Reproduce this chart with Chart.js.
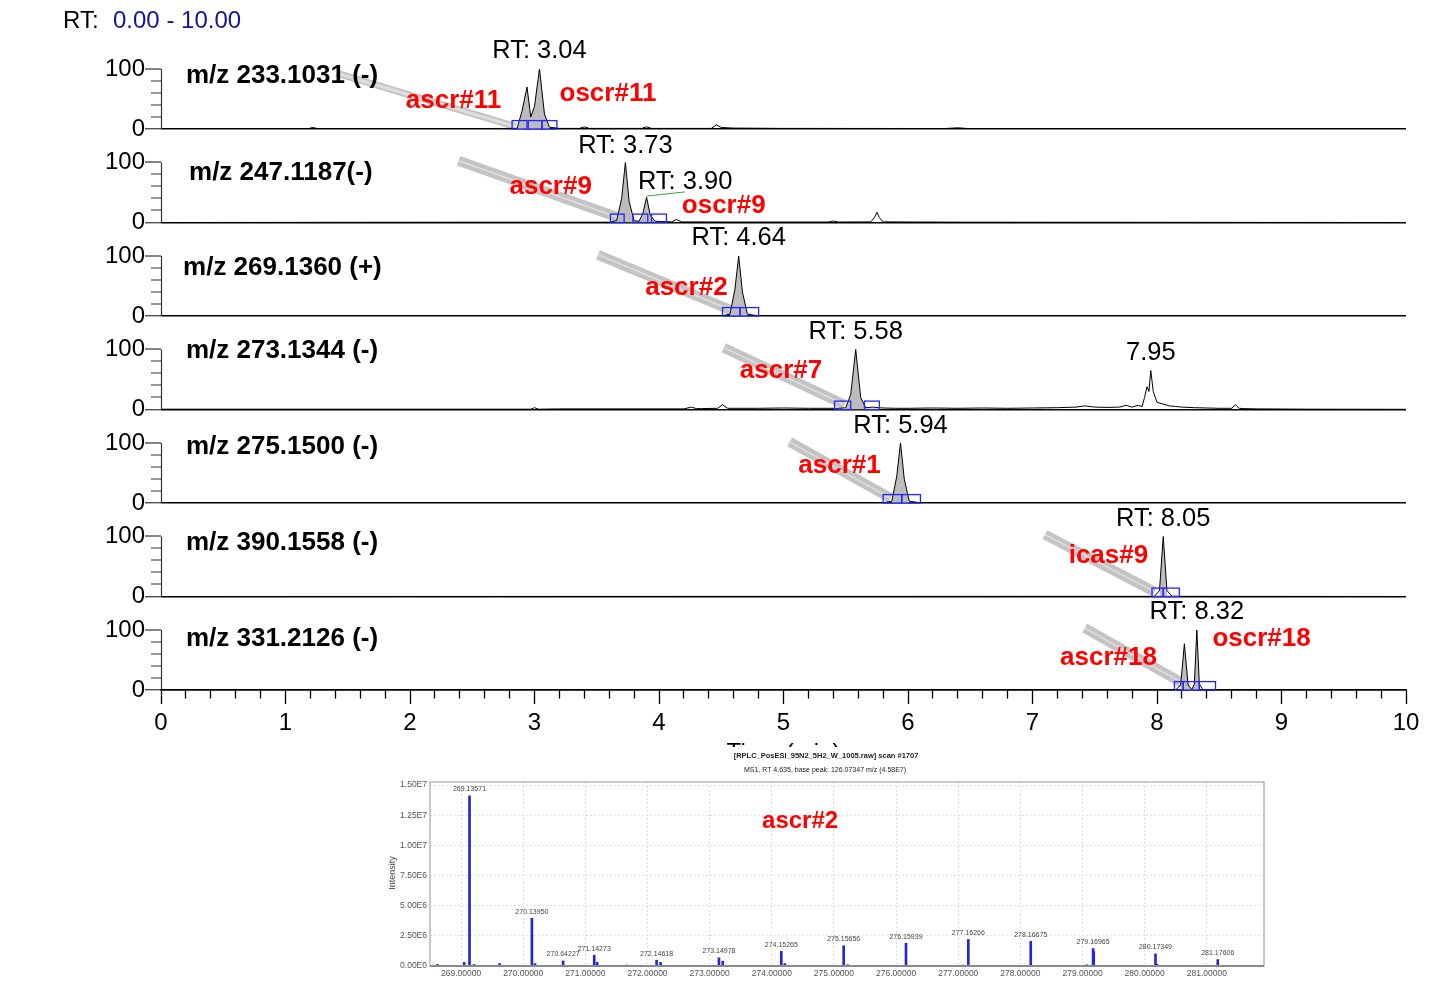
<!DOCTYPE html>
<html>
<head>
<meta charset="utf-8">
<script src="https://cdn.jsdelivr.net/npm/chart.js@4.4.0/dist/chart.umd.min.js"></script>
<style>
body { margin: 0; background: #fff; }
#wrap { position: relative; width: 1444px; height: 989px; overflow: hidden; }
#main { position: absolute; left: 0; top: 0; }
#spec { position: absolute; left: 370px; top: 747px; background: #fff; }
</style>
</head>
<body>
<div id="wrap">
  <canvas id="main" width="1444" height="780"></canvas>
  <canvas id="spec" width="910" height="240"></canvas>
</div>
<script>
/** 1. DATA **/
// chromatogram traces, top panel first (time in min, relative abundance %)
const t233 = [0, 1.18, 1.22, 1.26, 2.2, 2.86, 2.9, 2.94, 2.97, 3.0, 3.04, 3.08, 3.12, 3.2, 3.36, 3.4, 3.44, 3.86, 3.9, 3.94, 4.1, 4.42, 4.46, 4.5, 4.6, 5.0, 6.3, 6.4, 6.5, 7.4, 10];
const i233 = [0.5, 0.5, 2.5, 0.5, 0.5, 1, 30, 70, 20, 38, 100, 25, 3, 1, 1, 3.5, 1, 1, 3.5, 1, 1, 1, 7, 2.5, 1.5, 1, 0.8, 2, 0.5, 0.3, 0];

const t247 = [0, 2.5, 3.6, 3.66, 3.70, 3.73, 3.76, 3.80, 3.84, 3.87, 3.90, 3.93, 3.97, 4.1, 4.14, 4.18, 4.6, 5.36, 5.4, 5.44, 5.7, 5.73, 5.75, 5.77, 5.8, 6.5, 10];
const i247 = [0, 0.5, 0.5, 3, 40, 100, 35, 3, 2, 15, 42, 12, 2, 1, 5, 1, 0.8, 0.8, 2.5, 0.8, 1, 8, 17, 8, 1, 0.5, 0];

const t269 = [0, 4.5, 4.57, 4.61, 4.64, 4.67, 4.71, 4.8, 10];
const i269 = [0, 0.3, 3, 45, 100, 40, 3, 0.3, 0];

const t273 = [0, 2.97, 3.0, 3.03, 3.2, 4.2, 4.26, 4.3, 4.34, 4.47, 4.51, 4.55, 4.8, 5.0, 5.2, 5.45, 5.5, 5.54, 5.58, 5.62, 5.66, 5.72, 5.76, 5.8, 5.9, 6.0, 6.2, 6.4, 6.6, 6.8, 7.0, 7.2, 7.35, 7.42, 7.5, 7.6, 7.7, 7.75, 7.8, 7.85, 7.88, 7.9, 7.92, 7.935, 7.95, 7.97, 8.0, 8.05, 8.1, 8.15, 8.2, 8.3, 8.4, 8.5, 8.6, 8.63, 8.66, 8.7, 8.8, 9.0, 9.2, 10];
const i273 = [0.5, 0.5, 3, 0.5, 1, 1, 4, 1.5, 1.5, 2, 8, 2, 2, 2.5, 2, 2, 3, 25, 100, 20, 3, 4, 3, 2.5, 2, 2, 2.5, 2, 2.5, 2, 2.5, 3, 4, 6, 4, 3.5, 4, 7, 4, 7, 5, 20, 38, 30, 65, 30, 12, 9, 6, 5, 4, 3, 2.5, 2, 2, 8, 2, 1.5, 1, 0.8, 0.5, 0.3];

const t275 = [0, 5.8, 5.87, 5.91, 5.94, 5.97, 6.01, 6.1, 10];
const i275 = [0, 0.3, 3, 45, 100, 40, 3, 0.3, 0];

const t390 = [0, 7.98, 8.02, 8.05, 8.08, 8.12, 10];
const i390 = [0, 0.3, 10, 100, 10, 0.3, 0];

const t331 = [0, 8.15, 8.19, 8.22, 8.25, 8.28, 8.3, 8.32, 8.34, 8.37, 10];
const i331 = [0, 0.3, 8, 77, 8, 1, 10, 100, 10, 0.3, 0];

const traces = [[t233, i233], [t247, i247], [t269, i269], [t273, i273], [t275, i275], [t390, i390], [t331, i331]];

const mzLabels = ['m/z 233.1031 (-)', 'm/z 247.1187(-)', 'm/z 269.1360 (+)', 'm/z 273.1344 (-)', 'm/z 275.1500 (-)', 'm/z 390.1558 (-)', 'm/z 331.2126 (-)'];

// shaded (integrated) peak ranges, min
const shadeRanges = [[2.86, 3.12], [3.62, 3.98], [4.55, 4.73], [5.5, 5.66], [5.85, 6.03], [8.0, 8.1], [8.17, 8.36]];

// blue integration boxes [from, to] in min
const peakBoxes = [
  [[2.82, 2.94], [2.95, 3.06], [3.06, 3.18]],
  [[3.61, 3.72], [3.79, 3.91], [3.94, 4.06]],
  [[4.51, 4.65], [4.65, 4.80]],
  [[5.41, 5.54], [5.65, 5.77]],
  [[5.80, 5.95], [5.95, 6.10]],
  [[7.96, 8.05], [8.05, 8.18]],
  [[8.14, 8.21], [8.21, 8.34], [8.34, 8.47]]
];

// gray pointer bands [t0, y0, t1, y1]
const bands = [
  [1.41, 93, 2.85, 4],
  [2.39, 103, 3.69, 7],
  [3.51, 102, 4.61, 7],
  [4.52, 103, 5.49, 8],
  [5.05, 102, 5.86, 8],
  [7.10, 103, 7.98, 8],
  [7.42, 103, 8.21, 11]
];

// retention time labels [text, t, level]
const rtLabels = [
  [['RT: 3.04', 3.04, 130]],
  [['RT: 3.73', 3.73, 128], ['RT: 3.90', 4.21, 68]],
  [['RT: 4.64', 4.64, 130]],
  [['RT: 5.58', 5.58, 130], ['7.95', 7.95, 95]],
  [['RT: 5.94', 5.94, 128]],
  [['RT: 8.05', 8.05, 130]],
  [['RT: 8.32', 8.32, 130]]
];

// compound names [text, t, level]
const compoundLabels = [
  [['ascr#11', 2.35, 47], ['oscr#11', 3.59, 58]],
  [['ascr#9', 3.13, 60], ['oscr#9', 4.52, 27]],
  [['ascr#2', 4.22, 47]],
  [['ascr#7', 4.98, 65]],
  [['ascr#1', 5.45, 62]],
  [['icas#9', 7.61, 68]],
  [['ascr#18', 7.61, 53], ['oscr#18', 8.84, 85]]
];

// leader from the 3.90 peak to its label
const leaderT = [3.90, 4.21];
const leaderY = [44, 51];

// MS1 spectrum at RT 4.635
const peakMz = [269.13571, 270.13950, 270.64227, 271.14273, 272.14618, 273.14978, 274.15265, 275.15656, 276.15939, 277.16266, 278.16675, 279.16965, 280.17349, 281.17606];
const peakInt = [1.41e7, 3.95e6, 4.2e5, 9.0e5, 4.8e5, 6.8e5, 1.22e6, 1.68e6, 1.88e6, 2.2e6, 2.05e6, 1.45e6, 1.0e6, 5.3e5];
const minorMz = [268.62, 269.05, 269.21, 269.62, 270.19, 271.19, 271.67, 272.21, 273.21, 274.21, 275.22, 276.67, 277.07, 279.07, 279.18, 280.2];
const minorInt = [1.3e5, 3.0e5, 1.2e5, 2.0e5, 2.0e5, 3.0e5, 8e4, 3.0e5, 4.0e5, 2.0e5, 1.0e5, 5e4, 8e4, 1.0e5, 1.2e6, 1.5e5];
const specXTicks = [269, 270, 271, 272, 273, 274, 275, 276, 277, 278, 279, 280, 281];
const specYTicks = [0, 2.5e6, 5e6, 7.5e6, 1e7, 1.25e7, 1.5e7];

/** 2. MAIN CHROMATOGRAM **/
const FONT = "'Liberation Sans', Arial, sans-serif";
const TOP = 155.8;      // axis max so that 0..100 fills 60px of a 93.5px panel
const BOX_H = 14;
const mzLabelT = [0.2, 0.225, 0.177, 0.2, 0.2, 0.2, 0.2];
const mzLabelY = [88, 83, 80, 98, 93, 90, 85];

const isInt = v => Math.abs(v - Math.round(v)) < 1e-6;
const minorY = v => !(isInt(v / 100));

function panelAxis() {
    return {
        type: 'linear', position: 'left', stack: 'rt', stackWeight: 1, offset: false,
        min: 0, max: TOP,
        afterBuildTicks: ax => { ax.ticks = ax.ticks.filter(t => t.value <= 100.001); },
        afterFit: ax => { ax.width = 60; },
        ticks: {
            stepSize: 20, autoSkip: false, padding: 0, color: '#000',
            font: { family: FONT, size: 24 },
            callback: v => (v === 0 || v === 100) ? String(v) : ''
        },
        grid: {
            drawOnChartArea: true,
            color: c => (c.tick && c.tick.value === 0) ? '#000' : 'rgba(0,0,0,0)',
            lineWidth: c => (c.tick && c.tick.value === 0) ? 1.5 : 0,
            tickLength: 16, tickColor: '#333', tickWidth: 1.2,
            tickBorderDash: c => (c.tick && minorY(c.tick.value)) ? [0, 6, 10, 40] : []
        },
        border: { display: false }
    };
}

const scales = {
    x: {
        type: 'linear', position: 'bottom', min: 0, max: 10,
        afterFit: ax => { ax.height = 90; },
        ticks: {
            stepSize: 0.2, maxTicksLimit: 100, autoSkip: false, maxRotation: 0, padding: 5, color: '#000',
            font: { family: FONT, size: 24 },
            callback: v => isInt(v) ? String(Math.round(v)) : ''
        },
        grid: {
            drawOnChartArea: false, tickLength: 14, tickColor: '#000', tickWidth: 1.3,
            tickBorderDash: c => (c.tick && !isInt(c.tick.value)) ? [8, 40] : []
        },
        border: { display: true, color: '#000', width: 1.5 }
    }
};
// stacked panels are laid out bottom-up in definition order
for (let k = traces.length - 1; k >= 0; k--) scales['p' + k] = panelAxis();

const datasets = [];
traces.forEach(([t, v], k) => {
    const sh = shadeRanges[k];
    datasets.push({
        yAxisID: 'p' + k, order: 1,
        data: t.map((x, i) => ({ x, y: v[i] })),
        borderColor: '#000', borderWidth: 1, pointRadius: 0, tension: 0,
        fill: 'origin', backgroundColor: 'rgba(0,0,0,0)',
        segment: {
            backgroundColor: c => (c.p0.parsed.x >= sh[0] && c.p1.parsed.x <= sh[1]) ? '#bcbcbc' : 'rgba(0,0,0,0)'
        }
    });
});
bands.forEach((b, k) => {
    const d = [{ x: b[0], y: b[1] }, { x: b[2], y: b[3] }];
    datasets.push({ yAxisID: 'p' + k, order: 6, data: d, borderColor: '#c4c4c4', borderWidth: k === 0 ? 7 : 10, pointRadius: 0, fill: false });
    datasets.push({ yAxisID: 'p' + k, order: 5, data: d, borderColor: '#dedede', borderWidth: k === 0 ? 3 : 1.5, pointRadius: 0, fill: false });
});
datasets.push({
    yAxisID: 'p1', order: 2, data: leaderT.map((x, i) => ({ x, y: leaderY[i] })),
    borderColor: '#3aa53a', borderWidth: 1, pointRadius: 0, fill: false
});

const mainDecor = {
    id: 'mainDecor',
    afterDatasetsDraw(chart) {
        const ctx = chart.ctx, xs = chart.scales.x;
        ctx.save();
        traces.forEach((_, k) => {
            const ys = chart.scales['p' + k];
            const left = xs.left;
            // short y axis line 0..100
            ctx.strokeStyle = '#333'; ctx.lineWidth = 1.2;
            ctx.beginPath();
            ctx.moveTo(left + 0.5, ys.getPixelForValue(100));
            ctx.lineTo(left + 0.5, ys.getPixelForValue(0));
            ctx.stroke();
            // integration boxes
            ctx.strokeStyle = '#2424ff'; ctx.lineWidth = 1.3;
            peakBoxes[k].forEach(([a, b]) => {
                const x0 = xs.getPixelForValue(a), x1 = xs.getPixelForValue(b);
                const y0 = ys.getPixelForValue(BOX_H), y1 = ys.getPixelForValue(0);
                ctx.strokeRect(x0, y0, x1 - x0, y1 - y0);
            });
            ctx.textBaseline = 'middle';
            // m/z label
            ctx.fillStyle = '#000'; ctx.textAlign = 'left';
            ctx.font = 'bold 26px ' + FONT;
            ctx.fillText(mzLabels[k], xs.getPixelForValue(mzLabelT[k]), ys.getPixelForValue(mzLabelY[k]));
            // RT labels
            ctx.textAlign = 'center';
            ctx.font = '25.5px ' + FONT;
            rtLabels[k].forEach(([s, t, y]) => ctx.fillText(s, xs.getPixelForValue(t), ys.getPixelForValue(y)));
            // compound names
            ctx.fillStyle = '#ff0000';
            ctx.font = 'bold 26px ' + FONT;
            compoundLabels[k].forEach(([s, t, y]) => ctx.fillText(s, xs.getPixelForValue(t), ys.getPixelForValue(y)));
        });
        // range header and axis title
        ctx.textAlign = 'left';
        ctx.font = '24px ' + FONT;
        ctx.fillStyle = '#000';
        ctx.fillText('RT:', 63, 21);
        ctx.fillStyle = '#14149a';
        ctx.fillText('0.00 - 10.00', 113, 21);
        ctx.fillStyle = '#000';
        ctx.textAlign = 'center';
        ctx.textBaseline = 'alphabetic';
        ctx.fillText('Time (min)', (xs.left + xs.right) / 2, 760);
        ctx.restore();
    }
};

new Chart(document.getElementById('main'), {
    type: 'line',
    data: { datasets },
    options: {
        responsive: false, animation: false,
        layout: { padding: { left: 101, right: 38, top: 35.5, bottom: 0 } },
        plugins: { legend: { display: false }, tooltip: { enabled: false } },
        scales
    },
    plugins: [mainDecor]
});

/** 3. MS1 SPECTRUM INSET **/
const specBars = peakMz.map((x, i) => ({ x, y: peakInt[i] }))
    .concat(minorMz.map((x, i) => ({ x, y: minorInt[i] })));

const specDecor = {
    id: 'specDecor',
    afterDatasetsDraw(chart) {
        const ctx = chart.ctx, xs = chart.scales.x, ys = chart.scales.y, a = chart.chartArea;
        ctx.save();
        ctx.strokeStyle = '#b8b8b8'; ctx.lineWidth = 1.5;
        ctx.strokeRect(a.left, a.top, a.right - a.left, a.bottom - a.top);
        ctx.strokeStyle = '#8a8a8a'; ctx.lineWidth = 2;
        ctx.beginPath(); ctx.moveTo(a.left, a.bottom); ctx.lineTo(a.right, a.bottom); ctx.stroke();
        // peak labels
        ctx.fillStyle = '#444'; ctx.font = '7px ' + FONT;
        ctx.textAlign = 'center'; ctx.textBaseline = 'bottom';
        peakMz.forEach((m, i) => ctx.fillText(m.toFixed(5), xs.getPixelForValue(m), ys.getPixelForValue(peakInt[i]) - 3));
        // compound name
        ctx.fillStyle = '#ff0000'; ctx.font = 'bold 24px ' + FONT; ctx.textBaseline = 'middle';
        ctx.fillText('ascr#2', xs.getPixelForValue(274.455), ys.getPixelForValue(1.2e7));
        // headers
        ctx.fillStyle = '#222';
        ctx.font = 'bold 7.5px ' + FONT;
        ctx.fillText('[RPLC_PosESI_95N2_5H2_W_1005.raw] scan #1707', 456, 9);
        ctx.font = '7px ' + FONT;
        ctx.fillText('MS1, RT 4.635, base peak: 126.07347 m/z (4.58E7)', 455, 23);
        ctx.translate(23, 126); ctx.rotate(-Math.PI / 2);
        ctx.fillStyle = '#444'; ctx.font = '9px ' + FONT;
        ctx.fillText('Intensity', 0, 0);
        ctx.restore();
    }
};

new Chart(document.getElementById('spec'), {
    type: 'bar',
    data: { datasets: [{ data: specBars, backgroundColor: '#2626d9', barThickness: 2 }] },
    options: {
        responsive: false, animation: false,
        layout: { padding: { left: 0, right: 16, top: 35, bottom: 0 } },
        plugins: { legend: { display: false }, tooltip: { enabled: false } },
        scales: {
            x: {
                type: 'linear', min: 268.5, max: 281.92, offset: false,
                afterBuildTicks: ax => { ax.ticks = specXTicks.map(v => ({ value: v })); },
                afterFit: ax => { ax.height = 21; },
                ticks: { autoSkip: false, maxRotation: 0, padding: 3, color: '#555', font: { family: FONT, size: 8.5 }, callback: v => v.toFixed(5) },
                grid: { color: '#dedede', drawTicks: false, offset: false },
                border: { display: false, dash: [2, 2] }
            },
            y: {
                min: 0, max: 1.525e7,
                afterBuildTicks: ax => { ax.ticks = specYTicks.map(v => ({ value: v })); },
                afterFit: ax => { ax.width = 60; },
                ticks: { padding: 3, color: '#555', font: { family: FONT, size: 8.5 }, callback: v => v.toExponential(2).replace('e+', 'E') },
                grid: { color: '#e2e2e2', drawTicks: false },
                border: { display: false, dash: [2, 2] }
            }
        }
    },
    plugins: [specDecor]
});
</script>
</body>
</html>
